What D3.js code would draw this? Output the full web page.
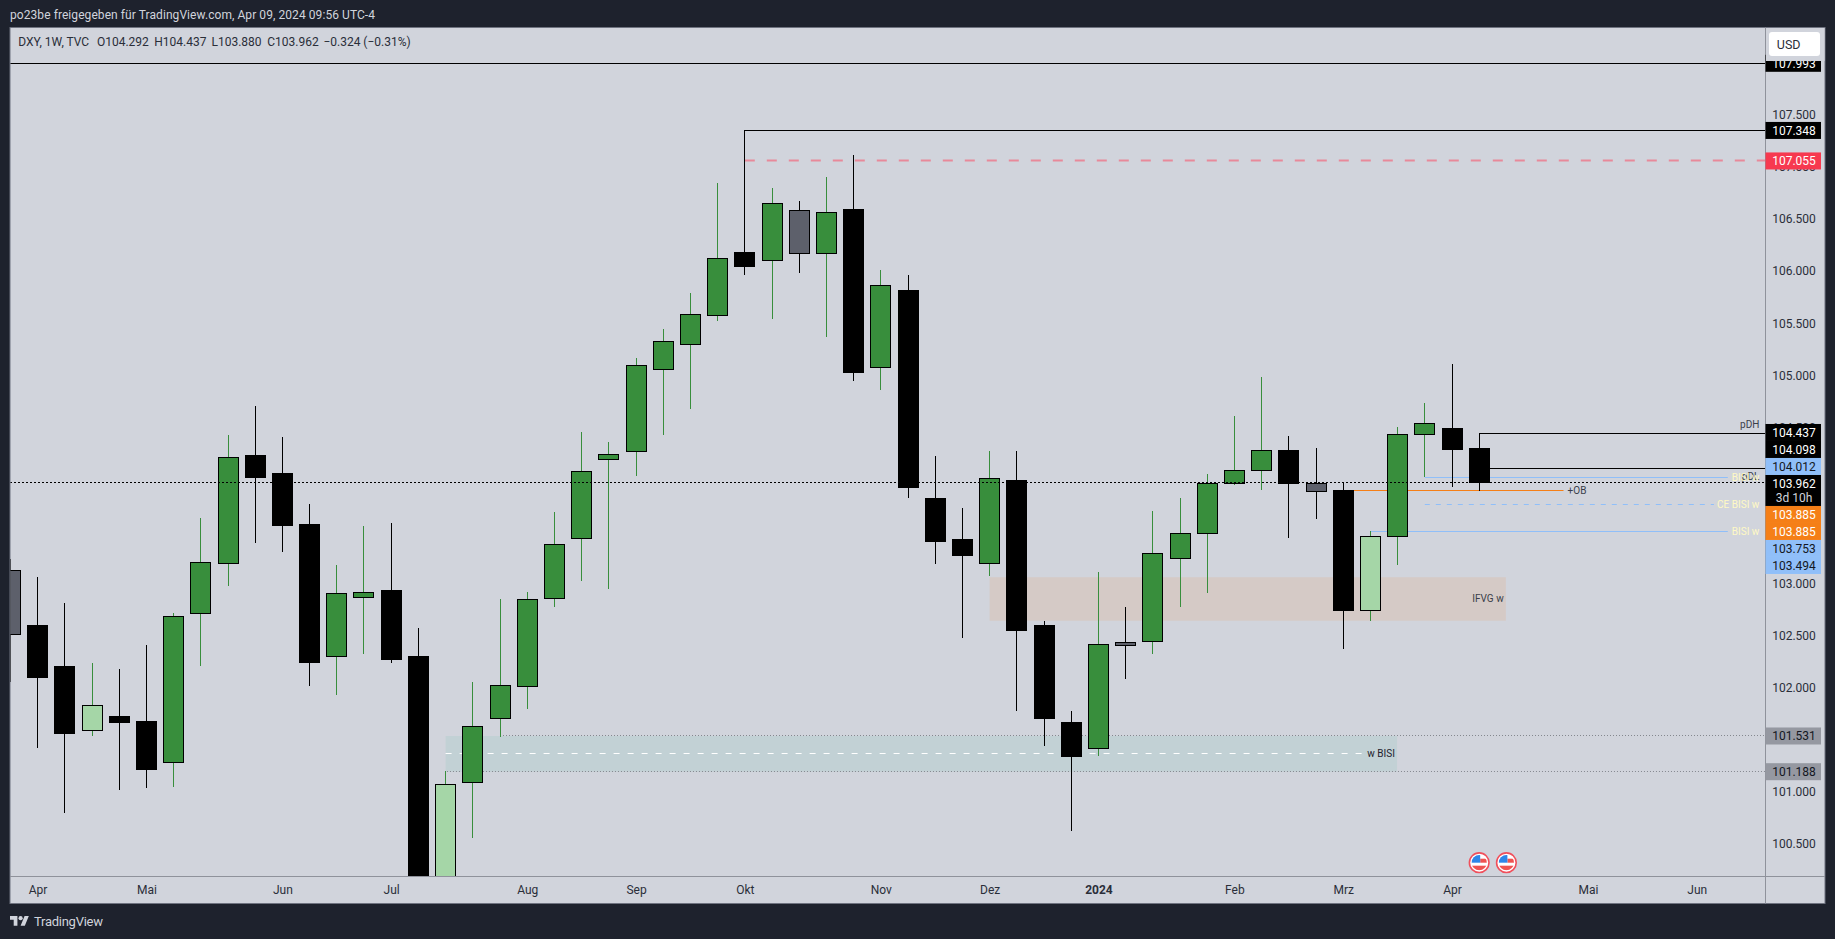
<!DOCTYPE html>
<html><head><meta charset="utf-8">
<script src="https://cdn.jsdelivr.net/npm/d3@7/dist/d3.min.js"></script>
<style>
html,body{margin:0;padding:0;background:#1e222d;overflow:hidden}
svg{display:block}
text{font-family:Roboto,"Noto Sans",sans-serif}
</style></head><body><svg id="c" width="1835" height="939"></svg>
<script>
// week index of each candle (-1 is the partly hidden one at the left edge)
const weeks=d3.range(-1,54);
const opens=[102.508,102.597,102.203,101.586,101.723,101.675,101.278,102.705,103.186,104.230,104.048,103.558,102.297,102.863,102.924,102.29,99.91,101.086,101.701,102.008,102.854,103.430,104.189,104.266,105.050,105.290,105.568,106.177,106.100,106.581,106.164,106.584,105.069,105.806,103.817,103.414,103.190,103.990,102.597,101.656,101.413,102.431,102.441,103.234,103.478,103.958,104.083,104.278,103.958,103.885,102.738,103.449,104.429,104.487,104.292];
const highs=[103.231,103.058,102.808,102.232,102.175,102.405,102.709,103.625,104.422,104.701,104.403,103.759,103.174,103.548,103.577,102.568,101.192,102.050,102.847,102.914,103.683,104.451,104.355,105.162,105.441,105.786,106.843,107.348,106.795,106.670,106.901,107.112,106.007,105.959,104.221,103.721,104.269,104.269,102.633,101.771,103.106,102.770,103.692,103.817,104.048,104.605,104.980,104.413,104.297,103.971,103.500,104.499,104.730,105.104,104.437];
const lows=[102.052,101.419,100.794,101.534,101.015,101.034,101.044,102.206,102.975,103.388,103.301,102.014,101.928,102.321,102.235,99.57,99.55,100.554,101.524,101.793,102.773,103.023,102.946,104.032,104.425,104.675,105.520,105.962,105.537,105.981,105.367,104.941,104.857,103.820,103.186,102.475,103.071,101.774,101.435,100.621,101.342,102.081,102.321,102.773,102.908,103.945,103.897,103.435,103.618,102.362,102.639,103.176,104.019,103.926,103.880];
const closes=[103.116,102.091,101.553,101.826,101.659,101.207,102.680,103.199,104.208,104.012,103.551,102.235,102.902,102.911,102.264,99.91,101.067,101.624,102.018,102.844,103.372,104.074,104.237,105.092,105.322,105.582,106.120,106.039,106.648,106.164,106.562,105.021,105.860,103.916,103.397,103.263,104.006,102.543,101.697,101.332,102.412,102.398,103.286,103.478,103.958,104.083,104.275,103.954,103.878,102.734,103.449,104.429,104.535,104.281,103.962];
const candleKinds=["g","b","b","l","b","b","u","u","u","b","b","b","u","u","b","b","l","u","u","u","u","u","u","u","u","u","u","b","u","g","u","b","u","b","b","b","u","b","b","b","u","g","u","u","u","u","u","b","g","b","l","u","u","b","b"];
const priceTicks=[100.5,101,102,102.5,103,104.5,105,105.5,106,106.5,107,107.5];
const monthIdx=[0,4,9,13,18,22,26,31,35,39,44,48,52,57,61];
const monthNames=["Apr","Mai","Jun","Jul","Aug","Sep","Okt","Nov","Dez","2024","Feb","Mrz","Apr","Mai","Jun"];
const tagValues=["104.437","104.098","104.012","103.962","103.885","103.885","103.753","103.494"];
const tagKinds=["k","k","s","k","o","o","s","s"];

const W=1835,H=939,L=10,R=1765.5,T=27.5,B=876,FR=1825,FB=903.5;
const fill={u:"#388e3c",b:"#000000",l:"#a5d6a7",g:"#5d606b"};
const wick={u:"#388e3c",b:"#000000",l:"#388e3c",g:"#000000"};
const x=d3.scaleLinear().domain([-1,53]).range([10.4,1479.2]);
const y=d3.scaleLinear().domain([101.188,107.993]).range([771.7,63.3]);
const px=v=>Math.floor(v)+0.5;
const svg=d3.select("#c");

svg.append("rect").attr("width",W).attr("height",H).attr("fill","#1e222d");
svg.append("rect").attr("x",L).attr("y",T).attr("width",FR-L).attr("height",FB-T).attr("fill","#d1d4dc").attr("stroke","#6f7380").attr("stroke-width",1);
svg.append("defs").append("clipPath").attr("id","pane").append("rect").attr("x",L+.5).attr("y",T).attr("width",R-L-.5).attr("height",B-T);
const pane=svg.append("g").attr("clip-path","url(#pane)");

// zones behind candles
function zone(p1,p2,a,b,c){pane.append("rect").attr("x",x(a)).attr("width",x(b)-x(a)).attr("y",y(p1)).attr("height",y(p2)-y(p1)).attr("fill",c);}
zone(103.056,102.638,35,53.98,"#d5cac6");
zone(101.531,101.188,15,49.98,"#c2d1d5");
function seg(p,a,b,c,dash,sw){const e=b===null?R:x(b);
  pane.append("line").attr("x1",x(a)).attr("x2",e).attr("y1",px(y(p))).attr("y2",px(y(p))).attr("stroke",c).attr("stroke-width",sw||1).attr("stroke-dasharray",dash||null);}
seg(101.531,17,null,"#85888f","1 2");
seg(101.188,15.05,null,"#85888f","1 2");
seg(101.36,15,48.77,"#ffffff","6 8");

// blue and orange level lines
seg(104.012,51,62.14,"#90bff9");
seg(103.753,51,61.63,"#90bff9","5 6");
seg(103.494,49,62.14,"#90bff9");
seg(103.885,48,56.1,"#f57f17");
// black and red levels
seg(107.993,-1.5,null,"#000000");
seg(107.348,26,null,"#000000");
seg(107.055,26,null,"#e8899a","10 12",2);
seg(104.437,53,null,"#000000");
seg(104.098,53,null,"#000000");

// candles
const g=pane.selectAll("g.c").data(weeks).join("g").attr("class","c").attr("shape-rendering","crispEdges");
g.append("line").attr("x1",d=>px(x(d))).attr("x2",d=>px(x(d)))
 .attr("y1",(d,i)=>y(highs[i])).attr("y2",(d,i)=>y(lows[i]))
 .attr("stroke",(d,i)=>wick[candleKinds[i]]).attr("stroke-width",1);
g.append("rect").attr("x",d=>px(x(d))-10).attr("width",20)
 .attr("y",(d,i)=>y(Math.max(opens[i],closes[i])))
 .attr("height",(d,i)=>Math.abs(y(opens[i])-y(closes[i])))
 .attr("fill",(d,i)=>fill[candleKinds[i]]).attr("stroke","#000").attr("stroke-width",1);

// current price line
pane.append("line").attr("x1",L).attr("x2",R).attr("y1",px(y(103.962))).attr("y2",px(y(103.962))).attr("stroke","#000").attr("stroke-dasharray","2 2");

// drawing labels
function lab(t,i,p,c,anchor){pane.append("text").text(t).attr("x",x(i)).attr("y",y(p)).attr("dy","0.35em").attr("text-anchor",anchor||"end").attr("font-size",10).attr("fill",c);}
lab("pDH",63.3,104.52,"#3a3e4a");
lab("pDL",63.3,104.02,"#3a3e4a");
lab("BISI w",63.3,104.012,"#fff9c4");
lab("CE BISI w",63.3,103.753,"#fff9c4");
lab("BISI w",63.3,103.494,"#fff9c4");
lab("+OB",56.25,103.885,"#3a3e4a","start");
lab("IFVG w",53.9,102.847,"#3a3e4a");
lab("w BISI",49.9,101.36,"#1e222d");

// event flags
svg.select("defs").append("clipPath").attr("id","flagClip").append("circle").attr("r",7.6);
[53,54].forEach(i=>{const f=pane.append("g").attr("transform",`translate(${x(i)},862.7)`);
  f.append("circle").attr("r",9.8).attr("fill","#fff").attr("stroke","#f0505c").attr("stroke-width",1.6);
  const c=f.append("g").attr("clip-path","url(#flagClip)");
  c.append("rect").attr("x",1).attr("y",-4).attr("width",7).attr("height",4).attr("fill","#ef5350");
  c.append("rect").attr("x",-8).attr("y",3).attr("width",16).attr("height",5).attr("fill","#ef5350");
  c.append("rect").attr("x",-8).attr("y",-8).attr("width",9).attr("height",8).attr("fill","#2e86e8");
});

// axes
const yAxis=d3.axisRight(y).tickValues(priceTicks).tickSize(0).tickFormat(d3.format(".3f"));
const ya=svg.append("g").attr("transform",`translate(${R},0)`).call(yAxis);
ya.select(".domain").remove();
ya.selectAll("text").attr("x",28.5).attr("dy","0.35em").attr("text-anchor","middle").attr("font-size",12).attr("font-family","Roboto").attr("fill","#2a2e39");
const xAxis=d3.axisBottom(x).tickValues(monthIdx).tickSize(0).tickFormat((d,i)=>monthNames[i]);
const xa=svg.append("g").attr("transform",`translate(0,${B})`).call(xAxis);
xa.select(".domain").remove();
xa.selectAll("text").attr("y",14).attr("dy","0.35em").attr("font-size",12).attr("font-family","Roboto").attr("fill","#2a2e39")
  .attr("font-weight",d=>d===39?"700":"400");
svg.append("line").attr("x1",L).attr("x2",FR).attr("y1",B+.5).attr("y2",B+.5).attr("stroke","#8f929b");
svg.append("line").attr("x1",R).attr("x2",R).attr("y1",T).attr("y2",FB).attr("stroke","#8f929b");

// axis tags
function tag(t,cy,bg,fg,h){const top=cy-8.5;
  svg.append("rect").attr("x",R).attr("y",top).attr("width",55.5).attr("height",h||17).attr("fill",bg);
  svg.append("text").text(t).attr("x",R+28.5).attr("y",cy).attr("dy","0.35em").attr("text-anchor","middle").attr("font-size",12).attr("fill",fg);}
tag("107.993",y(107.993),"#000","#fff");
svg.append("rect").attr("x",R+.5).attr("y",T+.5).attr("width",FR-R-1).attr("height",33).attr("fill","#d1d4dc");
tag("107.348",y(107.348),"#000","#fff");
tag("107.055",y(107.055),"#f7394f","#fff");
tag("101.531",y(101.531),"#9598a1","#131722");
tag("101.188",y(101.188),"#9598a1","#131722");
const stackTop=y(104.437)-1;
const tagStyle={k:["#000","#fff"],s:["#90bff9","#131722"],o:["#f57f17","#fff"]};
let cy=stackTop;
tagValues.forEach((t,i)=>{const s=tagStyle[tagKinds[i]];
  const tall=t==="103.962";
  tag(t,cy,s[0],s[1],tall?31:17);
  if(tall){svg.append("text").text("3d 10h").attr("x",R+28.5).attr("y",cy+14).attr("dy","0.35em").attr("text-anchor","middle").attr("font-size",12).attr("fill","#d1d4dc");cy+=14;}
  cy+=17;});

// USD button
svg.append("rect").attr("x",1769).attr("y",32).attr("width",51).attr("height",24).attr("rx",3).attr("fill","#fff");
svg.append("text").text("USD").attr("x",1788.7).attr("y",44.5).attr("dy","0.35em").attr("text-anchor","middle").attr("font-size",12.5).attr("fill","#2a2e39");

// header and legend
svg.append("text").text("po23be freigegeben für TradingView.com, Apr 09, 2024 09:56 UTC-4").attr("x",10).attr("y",15).attr("dy","0.35em").attr("font-size",12).attr("textLength",365).attr("fill","#d1d4dc");
[["DXY, 1W, TVC",18.2],["O104.292",96.9],["H104.437",154.2],["L103.880",211.5],["C103.962",267.3],["−0.324 (−0.31%)",323.4]].forEach(a=>{
  svg.append("text").text(a[0]).attr("x",a[1]).attr("y",41.7).attr("dy","0.35em").attr("font-size",12).attr("fill","#2a2e39");});

// footer logo
const logo=svg.append("g").attr("transform","translate(10,914) scale(0.53)").attr("fill","#d1d4dc");
logo.append("path").attr("d","M14 22H7V11H0V4h14v18zM28 22h-8l7.5-18h8L28 22z");
logo.append("circle").attr("cx",20).attr("cy",8).attr("r",4);
svg.append("text").text("TradingView").attr("x",34).attr("y",921.7).attr("dy","0.35em").attr("font-size",13).attr("textLength",69).attr("fill","#d1d4dc");
</script></body></html>
